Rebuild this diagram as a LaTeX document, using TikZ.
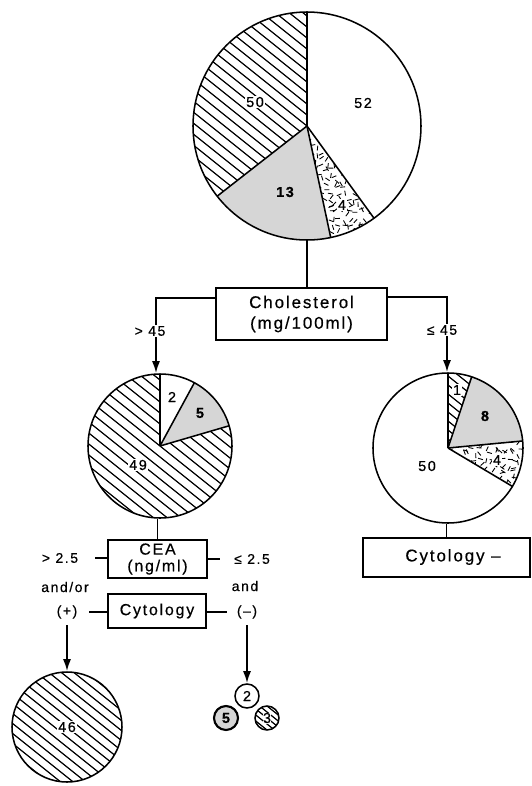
\documentclass[tikz,border=0pt]{standalone}
\usepackage{fontspec}
\setmainfont{Liberation Sans}
\newfontfamily\lab[LetterSpace=11,FakeBold=0.5]{Liberation Sans}
\usetikzlibrary{arrows.meta,calc}
\newcommand\sect[5]{(#1,#2) -- ++(#4:#3) arc[start angle=#4, end angle=#5, radius=#3] -- cycle}
% hatch lines: centre x, centre y, half length, step
\newcommand\hatchin[4]{%
  \foreach \k in {-30,...,30}
    \draw[hatchline] ({#1-#3},{#2+\k*#4+0.8*#3}) -- ({#1+#3},{#2+\k*#4-0.8*#3});}
% speckle: x start, x count, y start, y count
\newcommand\speckle[4]{%
  \foreach \i in {0,...,#2}
    \foreach \j in {0,...,#4}{%
      \pgfmathsetmacro\sa{rnd*360}%
      \pgfmathsetmacro\sx{#1+6*\i+rnd*4}%
      \pgfmathsetmacro\sy{#3+6*\j+rnd*4}%
      \draw[line width=0.65pt] (\sx,\sy) -- ++(\sa:5);}}
\begin{document}
\begin{tikzpicture}[x=0.75pt,y=0.75pt,
  box/.style={draw, line width=1.1pt, inner sep=0pt, align=center, font=\lab\fontsize{12.75}{15.5}\selectfont},
  cbox/.style={draw, line width=1.1pt, inner sep=0pt, align=center, font=\lab\fontsize{12}{12.5}\selectfont},
  num/.style={font=\lab\fontsize{10.8}{12}\selectfont, inner sep=1pt},
  bnum/.style={font=\lab\bfseries\fontsize{10.8}{12}\selectfont, inner sep=1pt},
  wnum/.style={num, fill=white},
  lbl/.style={font=\lab\fontsize{10.5}{12}\selectfont, inner sep=1pt},
  pie/.style={circle, draw, line width=1.15pt, inner sep=0pt},
  sepline/.style={line width=1.15pt},
  hatchline/.style={line width=0.9pt},
  dotfill/.style={fill=black!16},
  conn/.style={line width=1.1pt},
  arr/.style={line width=1.4pt, -{Latex[length=9pt,width=6pt]}},
]
\useasboundingbox (0,0) rectangle (532,-786);
\pgfmathsetseed{11}

% ---------------- top pie ----------------
\begin{scope}
  \clip \sect{307}{-126}{114}{90}{218};
  \hatchin{307}{-126}{140}{11}
\end{scope}
\fill[dotfill] \sect{307}{-126}{114}{-142}{-78};
\begin{scope}
  \clip \sect{307}{-126}{114}{-78}{-54};
  \speckle{303}{13}{-244}{20}
\end{scope}
\foreach \a in {90,-54,-78,218} \draw[sepline] (307,-126) -- ++(\a:114);
\node[pie, minimum size=171pt] (pA) at (307,-126) {};
\node[num] (nA52) at (363,-103) {52};
\node[wnum] (nA50) at (255,-102) {50};
\node[bnum] (nA13) at (285,-192) {13};
\node[wnum] (nA4) at (342,-205) {4};

% ---------------- cholesterol ----------------
\node[box, minimum width=128.25pt, minimum height=39pt] (chol) at (301.5,-314) {Cholesterol\\(mg/100ml)};
\draw[conn] (pA.south) -- (pA.south |- chol.north);
\node[lbl] (gt45) at (150,-331) {> 45};
\node[lbl] (le45) at (442,-330) {≤ 45};
\coordinate (kL) at (156,-298);
\coordinate (kR) at (447,-297);

% ---------------- left pie ----------------
\begin{scope}
  \clip \sect{160}{-446}{72}{90}{376.3};
  \hatchin{160}{-446}{100}{11}
\end{scope}
\fill[dotfill] \sect{160}{-446}{72}{16.3}{61.5};
\foreach \a in {90,61.5,16.3} \draw[sepline] (160,-446) -- ++(\a:72);
\node[pie, minimum size=108pt] (pL) at (160,-446) {};
\node[num] (nL2) at (172,-397) {2};
\node[bnum] (nL5) at (200,-413) {5};
\node[wnum] (nL49) at (138,-465) {49};

% ---------------- right pie ----------------
\begin{scope}
  \clip \sect{448}{-448}{75}{71.6}{90};
  \hatchin{448}{-448}{100}{9}
\end{scope}
\fill[dotfill] \sect{448}{-448}{75}{5.4}{71.6};
\begin{scope}
  \clip \sect{448}{-448}{75}{-30.8}{5.4};
  \speckle{444}{14}{-492}{10}
\end{scope}
\foreach \a in {90,71.6,5.4,-30.8} \draw[sepline] (448,-448) -- ++(\a:75);
\node[pie, minimum size=112.5pt] (pR) at (448,-448) {};
\node[wnum] (nR1) at (457,-390) {1};
\node[bnum] (nR8) at (485,-416) {8};
\node[wnum] (nR4) at (497,-460) {4};
\node[num] (nR50) at (427,-466) {50};

% branch connectors
\draw[conn] (chol.west |- kL) -- (kL) -- (kL |- gt45.north);
\draw[arr] (kL |- gt45.south) -- (kL |- pL.north);
\draw[conn] (chol.east |- kR) -- (kR) -- (kR |- le45.north);
\draw[arr] (kR |- le45.south) -- (kR |- pR.north);

% ---------------- right box ----------------
\node[box, minimum width=125.25pt, minimum height=29.25pt] (cytR) at (446.5,-557.5) {};
\node[font=\lab\fontsize{12.75}{15}\selectfont, inner sep=0pt] (cytRt) at (453,-557) {Cytology –};
\draw[conn] (cytR.north) -- (cytR.north |- pR.south);

% ---------------- CEA / Cytology ----------------
\node[cbox, minimum width=74.25pt, minimum height=28.5pt] (cea) at (157.5,-559) {CEA\\(ng/ml)};
\node[cbox, minimum width=73.5pt, minimum height=25.5pt] (cyt) at (157,-611) {Cytology};
\draw[conn] (cea.north) -- (cea.north |- pL.south);

\node[lbl] (gt25) at (60,-558) {> 2.5};
\node[lbl] (andor) at (65,-587) {and/or};
\node[lbl] (plus) at (67,-612) {(+)};
\node[lbl] (le25) at (252,-559) {≤ 2.5};
\node[lbl] (andr) at (245,-586) {and};
\node[lbl] (minus) at (247,-612) {(–)};
\coordinate (d1) at (95,-558);
\coordinate (d2) at (89,-612);
\coordinate (d3) at (220,-559);
\coordinate (d4) at (227,-612);
\draw[conn] (d1) -- (d1 -| cea.west);
\draw[conn] (d2) -- (d2 -| cyt.west);
\draw[conn] (d3 -| cea.east) -- (d3);
\draw[conn] (d4 -| cyt.east) -- (d4);

% ---------------- bottom circles ----------------
\begin{scope}
  \clip (67,-727) circle[radius=55];
  \hatchin{67}{-727}{80}{10}
\end{scope}
\node[pie, minimum size=82.5pt] (c46) at (67,-727) {};
\node[wnum] (n46) at (67,-727) {46};

\node[pie, minimum size=18pt] (c2) at (247,-696) {};
\node[num] at (c2) {2};
\fill[dotfill] (226,-718) circle[radius=12];
\node[pie, line width=1.6pt, minimum size=18pt] (c5) at (226,-718) {};
\node[bnum] at (c5) {5};
\begin{scope}
  \clip (267,-718) circle[radius=12];
  \hatchin{267}{-718}{20}{6}
\end{scope}
\node[pie, minimum size=18pt] (c3) at (267,-718) {};
\node[num, fill=white, inner sep=0.3pt] at (c3) {3};

\draw[arr] ([yshift=-4pt]plus.south) -- (c46.north);
\draw[arr] ([yshift=-4pt]minus.south) -- (c2.north);
\end{tikzpicture}
\end{document}
